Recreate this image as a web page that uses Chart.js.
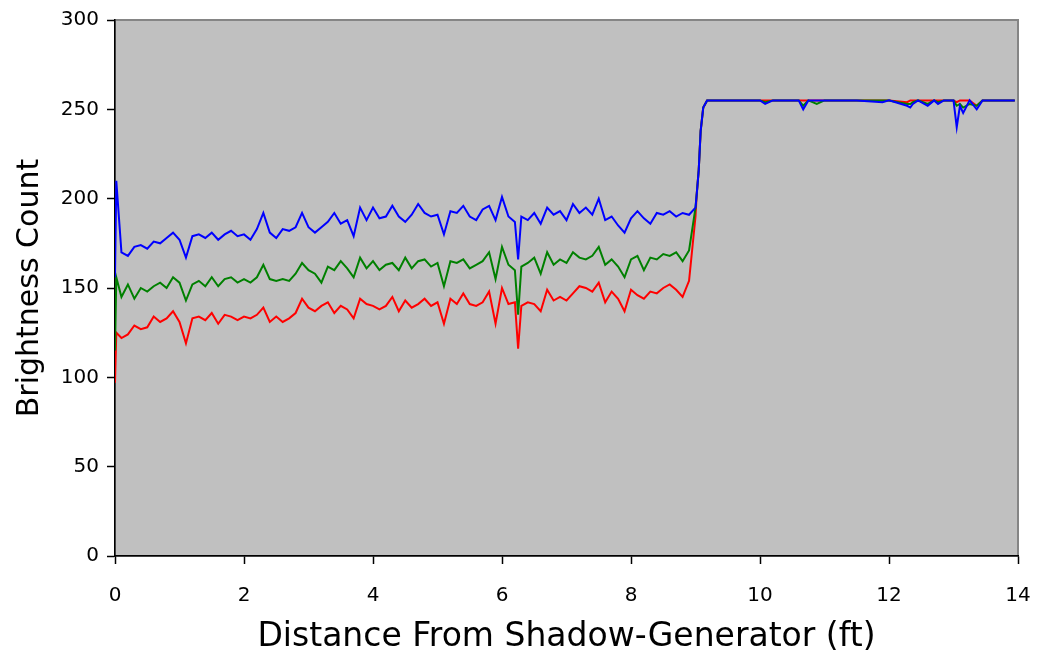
<!DOCTYPE html>
<html>
<head>
<meta charset="utf-8">
<script src="https://cdn.jsdelivr.net/npm/chart.js@4.4.1/dist/chart.umd.min.js"></script>
<style>
  body{ margin:0; background:#fff; }
  #wrap{ width:1037px; height:660px; }
</style>
</head>
<body>
<div id="wrap"><canvas id="brightChart" width="1037" height="660"></canvas></div>
<script>
// distance along the floor (ft)
const xs = [
  0, 0.02,
  0.1,0.2,0.3,0.4,0.5,0.6,0.7,0.8,0.9,
  1.0,1.1,1.2,1.3,1.4,1.5,1.6,1.7,1.8,1.9,
  2.0,2.1,2.2,2.3,2.4,2.5,2.6,2.7,2.8,2.9,
  3.0,3.1,3.2,3.3,3.4,3.5,3.6,3.7,3.8,3.9,
  4.0,4.1,4.2,4.3,4.4,4.5,4.6,4.7,4.8,4.9,
  5.0,5.1,5.2,5.3,5.4,5.5,5.6,5.7,5.8,5.9,
  6.0,6.1,6.2,6.25,6.3,6.4,6.5,6.6,6.7,6.8,6.9,
  7.0,7.1,7.2,7.3,7.4,7.5,7.6,7.7,7.8,7.9,
  8.0,8.1,8.2,8.3,8.4,8.5,8.6,8.7,8.8,8.9,
  9.0,9.02,9.05,9.08,9.12,9.18,
  9.3,9.6,10.0,10.08,10.2,10.6,10.67,10.75,10.88,11.0,
  11.5,11.9,12.0,12.28,12.33,12.37,12.45,12.6,12.7,12.76,
  12.85,13.0,13.05,13.1,13.15,13.25,13.36,13.45,13.6,13.95
];

const blueVals = [
  156,210,
  170,168,173,174,172,176,175,178,181,
  177,167,179,180,178,181,177,180,182,179,
  180,177,183,192,181,178,183,182,184,192,
  184,181,184,187,192,186,188,179,195,188,
  195,189,190,196,190,187,191,197,192,190,
  191,180,193,192,196,190,188,194,196,188,
  201,190,187,166,190,188,192,186,195,191,193,
  188,197,192,195,191,200,188,190,185,181,
  189,193,189,186,192,191,193,190,192,191,
  195,203,216,238,251,255,
  255,255,255,253,255,255,250,255,255,255,
  255,254,255,252,251,253,255,252,255,253,
  255,255,240,252,248,255,250,255,255,255
];

const greenVals = [
  115,156,
  145,152,144,150,148,151,153,150,156,
  153,143,152,154,151,156,151,155,156,153,
  155,153,156,163,155,154,155,154,158,164,
  160,158,153,162,160,165,161,156,167,161,
  165,160,163,164,160,167,161,165,166,162,
  164,151,165,164,166,161,163,165,170,155,
  173,163,160,135,162,164,167,158,170,163,166,
  164,170,167,166,168,173,163,166,162,156,
  166,168,160,167,166,169,168,170,165,171,
  195,203,216,238,251,255,
  255,255,255,254,255,255,252,255,253,255,
  255,255,255,253,253,254,255,253,255,254,
  255,255,252,253,251,253,252,255,255,255
];

const redVals = [
  97,125,
  122,124,129,127,128,134,131,133,137,
  131,119,133,134,132,136,130,135,134,132,
  134,133,135,139,131,134,131,133,136,144,
  139,137,140,142,136,140,138,133,144,141,
  140,138,140,145,137,143,139,141,144,140,
  142,130,144,141,147,141,140,142,148,130,
  150,141,142,116,140,142,141,137,149,143,145,
  143,147,151,150,148,153,142,148,144,137,
  149,146,144,148,147,150,152,149,145,154,
  190,203,216,238,251,255,
  255,255,255,255,255,255,255,255,255,255,
  255,255,255,254,255,255,255,255,255,255,
  255,255,254,255,255,255,252,255,255,255
];

const xTicks = [0,2,4,6,8,10,12,14];
const yTicks = [0,50,100,150,200,250,300];

function pts(vals){ return xs.map((x,i)=>({x:x, y:vals[i]})); }

// grey plot area with darker frame
const plotBg = {
  id:"plotBg",
  beforeDraw(chart){
    const a = chart.chartArea, c = chart.ctx;
    c.save();
    c.fillStyle = "#c0c0c0";
    c.fillRect(a.left, a.top, a.right-a.left, a.bottom-a.top);
    c.strokeStyle = "#858585";
    c.lineWidth = 2;
    c.strokeRect(a.left, a.top, a.right-a.left, a.bottom-a.top);
    c.restore();
  }
};

const font = "'DejaVu Sans', Verdana, sans-serif";

new Chart(document.getElementById("brightChart").getContext("2d"), {
  type:"line",
  data:{
    datasets:[
      { label:"Blue", data:pts(blueVals), borderColor:"#0000ff" },
      { label:"Green", data:pts(greenVals), borderColor:"#008000" },
      { label:"Red", data:pts(redVals), borderColor:"#ff0000" }
    ]
  },
  options:{
    responsive:false,
    animation:false,
    layout:{ padding:{ left:0, top:20, right:19, bottom:0 } },
    elements:{
      point:{ radius:0 },
      line:{ borderWidth:2, tension:0 }
    },
    plugins:{ legend:{display:false}, tooltip:{enabled:false} },
    scales:{
      x:{
        type:"linear", min:0, max:14,
        afterBuildTicks(s){ s.ticks = xTicks.map(v=>({value:v})); },
        afterFit(s){ s.height = 104; s.paddingLeft = 0; s.paddingRight = 0; },
        ticks:{ color:"#000", padding:20, maxRotation:0, font:{family:font, size:20} },
        grid:{ drawOnChartArea:false, color:"#000", tickLength:8, tickWidth:1.5 },
        border:{ color:"#000", width:1.5 },
        title:{ display:true, text:"Distance From Shadow-Generator (ft)", color:"#000",
                font:{family:font, size:33}, padding:{top:0, bottom:3} }
      },
      y:{
        min:0, max:300,
        afterBuildTicks(s){ s.ticks = yTicks.map(v=>({value:v})); },
        afterFit(s){ s.width = 115; s.paddingTop = 0; s.paddingBottom = 0; },
        ticks:{ color:"#000", padding:8, font:{family:font, size:20} },
        grid:{ drawOnChartArea:false, color:"#000", tickLength:8, tickWidth:1.5 },
        border:{ color:"#000", width:1.5 },
        title:{ display:true, text:"Brightness Count", color:"#000",
                font:{family:font, size:30}, padding:{top:12, bottom:0} }
      }
    }
  },
  plugins:[plotBg]
});
</script>
</body>
</html>
